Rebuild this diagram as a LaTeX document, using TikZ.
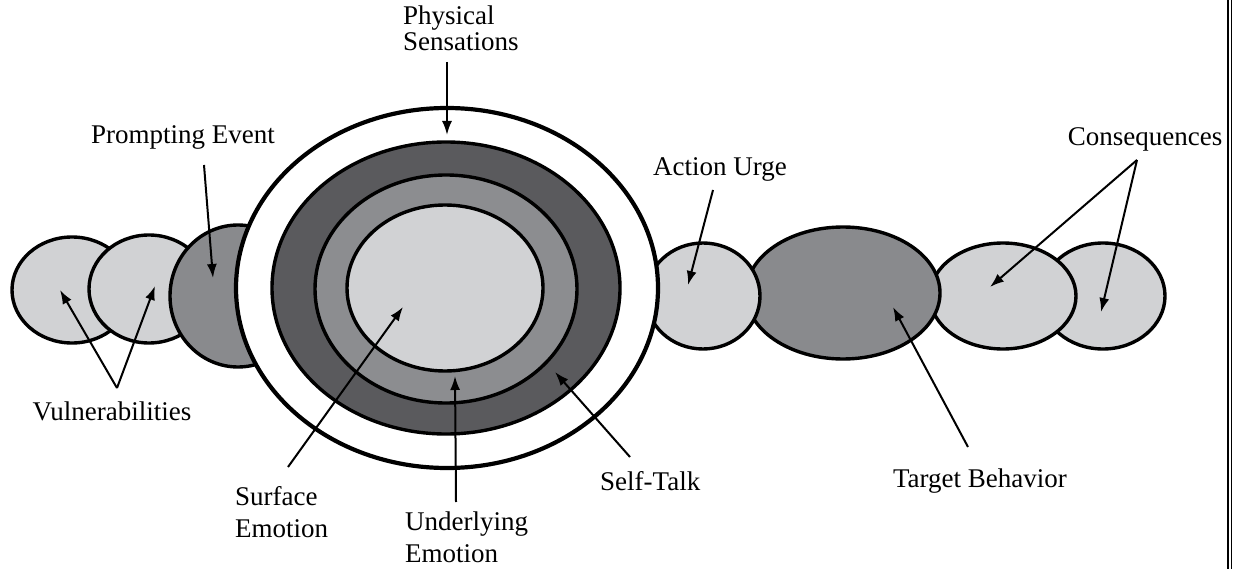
\documentclass[tikz,border=0pt]{standalone}
\usepackage{fontspec}
\setmainfont{Liberation Serif}
\usetikzlibrary{shapes.geometric,arrows.meta}
\definecolor{lightfill}{HTML}{D1D2D4}
\definecolor{midfill}{HTML}{898A8D}
\definecolor{darkring}{HTML}{5A5A5D}
\definecolor{midring}{HTML}{8C8D90}
\tikzset{
  blob/.style={ellipse, draw=black, line width=3.4pt, inner sep=0pt, outer sep=0pt},
  lbl/.style={inner sep=0pt, font=\fontsize{27}{31}\selectfont},
  pointer/.style={line width=2pt, -{Latex[length=14pt,width=10pt]}},
  rule/.style={line width=1.6pt}
}
\begin{document}
\begin{tikzpicture}[x=1pt,y=-1pt]
\useasboundingbox (0,0) rectangle (1233,569);
\fill[white] (0,0) rectangle (1233,569);
% left chain
\node[blob, fill=lightfill, minimum width=120, minimum height=106] (v1) at (72,290) {};
\node[blob, fill=lightfill, minimum width=120, minimum height=108] (v2) at (149,289) {};
\node[blob, fill=midfill, minimum width=136, minimum height=142] (pe) at (238,296) {};
% right chain
\node[blob, fill=lightfill, minimum width=124, minimum height=106] (c2) at (1103,296) {};
\node[blob, fill=lightfill, minimum width=146, minimum height=106] (c1) at (1003,296) {};
\node[blob, fill=midfill, minimum width=194, minimum height=132] (tb) at (843,293) {};
\node[blob, fill=lightfill, minimum width=114, minimum height=106] (au) at (703,296) {};
% centre
\node[blob, fill=white, line width=4.2pt, minimum width=422, minimum height=360] (outer) at (447,288) {};
\node[blob, fill=darkring, minimum width=348, minimum height=292] (talk) at (446,288) {};
\node[blob, fill=midring, minimum width=262, minimum height=228] (under) at (446,289) {};
\node[blob, fill=lightfill, minimum width=196, minimum height=166] (surf) at (445,288) {};
% labels (multi-line nodes: base = baseline of last line)
\node[lbl, anchor=base west, align=left, font=\fontsize{27}{26}\selectfont] (tPS) at (403,51) {Physical\\Sensations};
\node[lbl, anchor=base] (tPE) at (183,144) {Prompting Event};
\node[lbl, anchor=base] (tV) at (112,420) {Vulnerabilities};
\node[lbl, anchor=base west, align=left, font=\fontsize{27}{32}\selectfont] (tSE) at (235,537) {Surface\\Emotion};
\node[lbl, anchor=base west, align=left, font=\fontsize{27}{32}\selectfont] (tUE) at (405,562) {Underlying\\Emotion};
\node[lbl, anchor=base west] (tST) at (600,490) {Self-Talk};
\node[lbl, anchor=base west] (tAU) at (653,176) {Action Urge};
\node[lbl, anchor=base] (tTB) at (980,487) {Target Behavior};
\node[lbl, anchor=base] (tC) at (1145,146) {Consequences};
% connector ends
\coordinate (sPS) at (447,62);   \coordinate (ePS) at (447,135);
\coordinate (sPE) at (204,165);  \coordinate (ePE) at (213,278);
\coordinate (sV) at (117,388);   \coordinate (eV1) at (60,290); \coordinate (eV2) at (155,286);
\coordinate (sSE) at (288,467);  \coordinate (eSE) at (403,307);
\coordinate (sUE) at (456,502);  \coordinate (eUE) at (455,376);
\coordinate (sST) at (630,457);  \coordinate (eST) at (555,372);
\coordinate (sAU) at (713,190);  \coordinate (eAU) at (688,285);
\coordinate (sTB) at (968,447);  \coordinate (eTB) at (893,307);
\coordinate (sC) at (1137,160);  \coordinate (eC1) at (990,287); \coordinate (eC2) at (1101,312);
% connectors
\draw[pointer] (sPS) -- (ePS);
\draw[pointer] (sPE) -- (ePE);
\draw[pointer] (sV) -- (eV1);
\draw[pointer] (sV) -- (eV2);
\draw[pointer] (sSE) -- (eSE);
\draw[pointer] (sUE) -- (eUE);
\draw[pointer] (sST) -- (eST);
\draw[pointer] (sAU) -- (eAU);
\draw[pointer] (sTB) -- (eTB);
\draw[pointer] (sC) -- (eC1);
\draw[pointer] (sC) -- (eC2);
% right edge double rule
\draw[rule] (1228.2,0) -- (1228.2,569);
\draw[rule] (1231.6,0) -- (1231.6,569);
\end{tikzpicture}
\end{document}
